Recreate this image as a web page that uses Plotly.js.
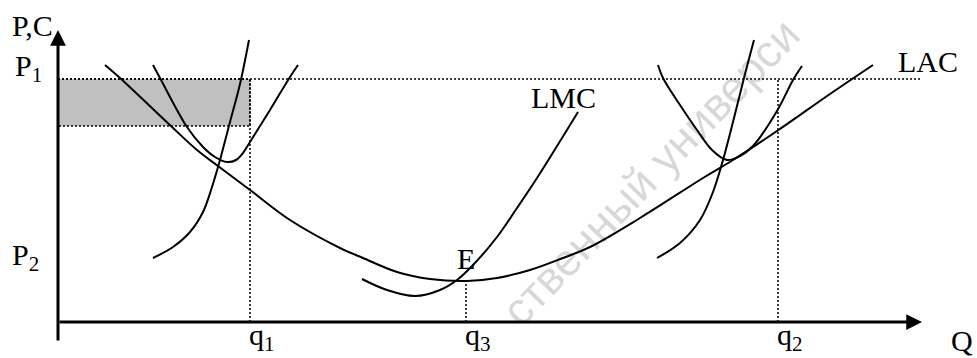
<!DOCTYPE html>
<html><head><meta charset="utf-8">
<script src="https://cdn.plot.ly/plotly-3.0.1.min.js"></script>
<style>html,body{margin:0;padding:0;background:#fff}</style>
</head><body>
<div id="chart" style="width:977px;height:358px"></div>
<script>
// Schematic values (Q on x, P/C on y)
const lacQ  = [47, 62, 114, 139, 160, 192, 232, 282, 305, 339, 372, 409, 439, 472, 505, 532, 582, 645, 675, 719, 772, 815];
const lacC  = [257, 244, 195, 172, 156, 132, 102, 74, 64, 50, 43, 41, 44, 52, 64, 75, 104, 144, 162, 191, 228, 257];
const sac1Q = [95, 102, 129, 145, 157, 169, 178, 185, 192, 212, 232, 240];
const sac1C = [257, 244, 195, 175, 165, 160, 162, 169, 180, 212, 245, 257];
const smc1Q = [95, 115, 132, 145, 154, 162, 172, 182, 191];
const smc1C = [64, 75, 90, 110, 135, 162, 200, 238, 282];
const lmcQ  = [304, 329, 357, 382, 399, 415, 439, 459, 479, 520];
const lmcC  = [43, 32, 26, 32, 42, 57, 85, 114, 144, 210];
const sac2Q = [600, 605, 622, 639, 654, 669, 682, 695, 719, 735, 744];
const sac2C = [257, 244, 217, 192, 172, 162, 166, 176, 211, 242, 256];
const smc2Q = [599, 622, 642, 655, 665, 676, 686, 696];
const smc2C = [64, 79, 102, 130, 162, 204, 244, 282];

const P1 = 243, C1 = 196, Emin = 41;
const q1 = 192, q3 = 408, q2 = 720;
const xEnd = 864, yEnd = 292, yStart = -20, p1End = 862;

const xTickVals = [q1, q3, q2];
const xTickText = ['q<sub>1</sub>', 'q<sub>3</sub>', 'q<sub>2</sub>'];

const curve = (x, y) => ({x, y, type:'scatter', mode:'lines', hoverinfo:'skip',
  line:{color:'#000', width:2, shape:'spline', smoothing:1}});
const dotted = {color:'#000', width:1.5, dash:'2px,2px'};

const traces = [
  {x:[0, q1, q1, 0, 0], y:[P1, P1, C1, C1, P1], type:'scatter', mode:'lines', fill:'toself',
   fillcolor:'#c0c0c0', line:dotted, hoverinfo:'skip'},
  {x:[0, p1End], y:[P1, P1], type:'scatter', mode:'lines', line:dotted, hoverinfo:'skip'},
  {x:[q1, q1], y:[0, P1], type:'scatter', mode:'lines', line:dotted, hoverinfo:'skip'},
  {x:[q2, q2], y:[0, P1], type:'scatter', mode:'lines', line:dotted, hoverinfo:'skip'},
  {x:[q3, q3], y:[0, Emin], type:'scatter', mode:'lines', line:dotted, hoverinfo:'skip'},
  curve(lacQ, lacC), curve(sac1Q, sac1C), curve(smc1Q, smc1C),
  curve(lmcQ, lmcC), curve(sac2Q, sac2C), curve(smc2Q, smc2C)
];

const F = {family:'"Liberation Serif", "Times New Roman", serif', size:30, color:'#000'};
const lab = (x, y, text, xa, ya) => ({x, y, text, showarrow:false, font:F,
  xanchor:xa || 'center', yanchor:ya || 'middle'});

const ann = [
  {x:0, y:yEnd, ax:0, ay:yStart, axref:'x', ayref:'y', text:'', showarrow:true,
   arrowhead:2, arrowsize:1.05, arrowwidth:3, arrowcolor:'#000', standoff:0},
  {x:xEnd, y:0, ax:0, ay:0, axref:'x', ayref:'y', text:'', showarrow:true,
   arrowhead:2, arrowsize:1.05, arrowwidth:3, arrowcolor:'#000', standoff:0},
  lab(-26, 297, 'P,C'),
  lab(-30, 254, 'P<sub>1</sub>'),
  lab(-33, 65, 'P<sub>2</sub>'),
  lab(870, 261, 'LAC'),
  lab(505, 225, 'LMC'),
  lab(408, 64, 'E'),
  lab(904, -18, 'Q'),
  {x:592, y:150, text:'ственный универси', showarrow:false, textangle:-46,
   font:{family:'"Liberation Sans", Arial, sans-serif', size:45, color:'rgba(0,0,0,0.17)'}}
];
xTickVals.forEach((v, i) => ann.push(lab(v + 12, -15, xTickText[i])));

const layout = {
  width:977, height:358, margin:{l:0, r:0, t:0, b:0},
  paper_bgcolor:'#fff', plot_bgcolor:'#fff', showlegend:false,
  xaxis:{range:[-58, 919], visible:false, fixedrange:true},
  yaxis:{range:[-36, 322], visible:false, fixedrange:true},
  annotations:ann
};
Plotly.newPlot('chart', traces, layout, {displayModeBar:false, staticPlot:true});
</script>
</body></html>
